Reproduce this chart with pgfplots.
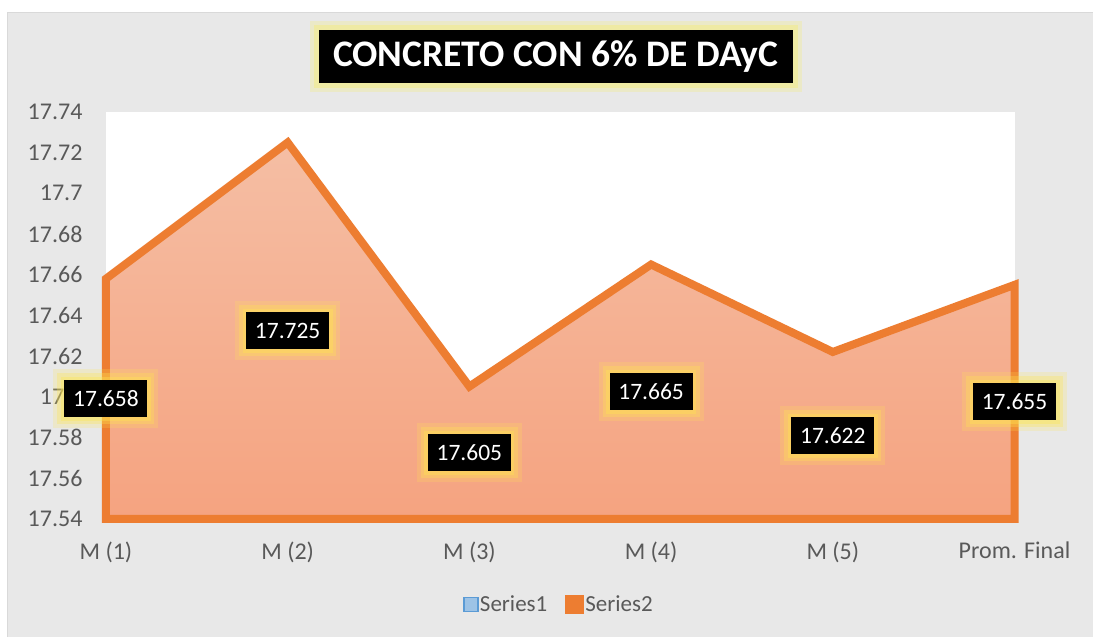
\documentclass[border=0pt]{standalone}
\usepackage{pgfplots}
\usepackage{pgfplotstable}
\pgfplotsset{compat=1.18}
\usepackage{fontspec}
\setmainfont{Carlito}
\definecolor{orangeC}{HTML}{ED7D31}
\definecolor{areaTop}{HTML}{F5BEA4}
\definecolor{areaBot}{HTML}{F5A380}
\definecolor{bgGray}{HTML}{E8E8E8}
\definecolor{txtGray}{HTML}{595959}
\definecolor{glowY}{HTML}{FFE650}
\definecolor{titleGlow}{HTML}{F2EC8C}
\definecolor{s1fill}{HTML}{9DC3E6}
\definecolor{s1draw}{HTML}{5B9BD5}

\pgfplotstableread{
x y
0 17.658
1 17.725
2 17.605
3 17.665
4 17.622
5 17.655
}\datatable

\begin{document}
\begin{tikzpicture}
\fill[white] (0pt,0pt) rectangle (1093pt,637pt);
\fill[bgGray] (8pt,0pt) rectangle (1093pt,624pt);
\draw[gray!30, line width=1pt] (8pt,0pt) -- (8pt,624pt) -- (1093pt,624pt);
\node[fill=black, text=white, font=\fontsize{37.5}{40}\selectfont\bfseries,
      minimum width=474pt, minimum height=53pt, inner sep=0pt,
      preaction={draw=titleGlow, draw opacity=0.35, line width=18pt},
      preaction={draw=titleGlow, draw opacity=0.6, line width=10pt}] at (556pt,580.5pt) {CONCRETO CON 6\% DE DAyC};
\begin{axis}[
  at={(106pt,118pt)}, anchor=south west,
  scale only axis, width=909pt, height=407pt,
  xmin=0, xmax=5, ymin=17.54, ymax=17.74,
  clip=false,
  axis background/.style={fill=white},
  xtick={0,1,2,3,4,5},
  xticklabels={M (1), M (2), M (3), M (4), M (5), Prom. Final},
  ytick={17.54,17.56,17.58,17.6,17.62,17.64,17.66,17.68,17.7,17.72,17.74},
  yticklabel style={/pgf/number format/fixed, /pgf/number format/precision=2, xshift=-20pt},
  /pgf/number format/assume math mode=true,
  tick label style={font=\fontsize{24}{28}\selectfont, text=txtGray},
  xticklabel style={yshift=-20pt},
  major tick length=0pt,
  axis x line*=bottom, axis y line*=left,
  x axis line style={draw=gray!35, line width=1pt, -},
  y axis line style={draw=none},
  legend style={at={(0.499,-0.211)}, anchor=center, draw=none, fill=none,
    font=\fontsize{23}{26}\selectfont, text=txtGray,
    legend columns=2, /tikz/every even column/.append style={column sep=16pt}},
  legend cell align=left,
]
\addplot[draw=orangeC, line width=8pt, top color=areaTop, bottom color=areaBot, forget plot]
  table[x=x,y=y] {\datatable} \closedcycle;
\addplot[draw=none, mark=none, forget plot, nodes near coords, point meta=explicit symbolic,
  nodes near coords style={anchor=center, fill=black, text=white,
    font=\fontsize{23.5}{26}\selectfont, minimum width=83pt, minimum height=37pt, inner sep=0pt,
    preaction={draw=glowY, draw opacity=0.2, line width=22pt},
    preaction={draw=glowY, draw opacity=0.3, line width=14pt},
    preaction={draw=glowY, draw opacity=0.35, line width=7pt}}]
  table[x=x, y expr={(\thisrow{y}+17.54)/2}, meta=y] {\datatable};
\addlegendimage{only marks, mark=square*, mark size=7pt, mark options={fill=s1fill, draw=s1draw, line width=1.5pt}}
\addlegendentry{Series1}
\addlegendimage{only marks, mark=square*, mark size=9pt, mark options={fill=orangeC, draw=orangeC, rounded corners=2pt}}
\addlegendentry{Series2}
\end{axis}
\end{tikzpicture}
\end{document}
